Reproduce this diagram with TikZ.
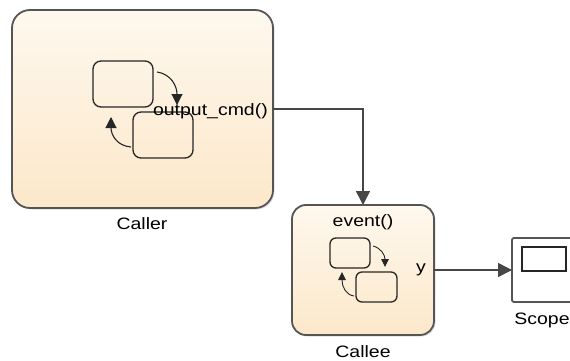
\documentclass[tikz,border=0pt]{standalone}
\usepackage{fontspec}
\setmainfont{Liberation Sans}
\newfontfamily\lblfont[FakeStretch=1.18]{Liberation Sans}
\usetikzlibrary{arrows.meta,shadows}
\definecolor{chtop}{RGB}{254,248,238}
\definecolor{chbot}{RGB}{252,232,202}
\definecolor{bordergray}{RGB}{85,85,85}
\definecolor{linegray}{RGB}{70,70,70}
\tikzset{
  chartblock/.style={draw=bordergray, line width=1.8pt, top color=chtop, bottom color=chbot,
    inner sep=0pt, outer sep=0pt,
    drop shadow={shadow xshift=1.5pt, shadow yshift=-1.5pt, opacity=0.25}},
  statebox/.style={draw=black!85, line width=1.3pt, inner sep=0pt, outer sep=0pt},
  trans/.style={draw=black!85, line width=1.1pt, -{Triangle[length=11pt,width=11pt]}},
  smalltrans/.style={draw=black!85, line width=0.9pt, -{Triangle[length=8pt,width=7.5pt]}},
  signal/.style={draw=linegray, line width=1.6pt, -{Triangle[length=14pt,width=14pt]}},
  lbl/.style={font=\lblfont\fontsize{16.5}{18}\selectfont, inner sep=0pt},
}
\begin{document}
\begin{tikzpicture}[x=1pt,y=-1pt]
\useasboundingbox (0,0) rectangle (570,361);
\clip (0,0) rectangle (570,361);
\fill[white] (0,0) rectangle (570,361);
% Caller chart
\node[chartblock, rounded corners=18pt, minimum width=261pt, minimum height=198pt] (caller) at (142.5,109) {};
\node[statebox, rounded corners=8pt, minimum width=60pt, minimum height=46pt] (c1) at (123,84) {};
\node[statebox, rounded corners=8pt, minimum width=60pt, minimum height=46pt] (c2) at (163,135) {};
\coordinate (c1out) at (157,72);
\coordinate (c1in) at (177,105);
\coordinate (c2out) at (131,147);
\coordinate (c2in) at (111,117);
\draw[trans] (c1out) .. controls (171,74) and (177,86) .. (c1in);
\draw[trans] (c2out) .. controls (117,146) and (111,135) .. (c2in);
\node[lbl, anchor=base east] (outlbl) at (268,115) {output\_cmd()};
\node[lbl] (callerlbl) at (142,224) {Caller};
% Callee chart
\node[chartblock, rounded corners=14pt, minimum width=142pt, minimum height=130pt] (callee) at (363,270) {};
\node[statebox, rounded corners=6pt, minimum width=40pt, minimum height=30pt] (e1) at (350,253) {};
\node[statebox, rounded corners=6pt, minimum width=41pt, minimum height=30pt] (e2) at (376.5,287) {};
\coordinate (e1out) at (373,246);
\coordinate (e1in) at (385,267);
\coordinate (e2out) at (354,296);
\coordinate (e2in) at (342,272);
\draw[smalltrans] (e1out) .. controls (381,248) and (385,255) .. (e1in);
\draw[smalltrans] (e2out) .. controls (346,295) and (342,287) .. (e2in);
\node[lbl] (eventlbl) at (363,222) {event()};
\node[lbl] (ylbl) at (421,270) {y};
\node[lbl] (calleelbl) at (363,352) {Callee};
% Scope
\node[draw=bordergray, line width=1.8pt, fill=white, rounded corners=2pt, minimum width=88pt, minimum height=64pt, inner sep=0pt, outer sep=0pt,
  drop shadow={shadow xshift=1pt, shadow yshift=-1pt, opacity=0.2}] (scope) at (556,270) {};
\node[draw=black!85, line width=1.3pt, minimum width=44pt, minimum height=24pt, inner sep=0pt] (screen) at (544,259) {};
\node[lbl] (scopelbl) at (542,320) {Scope};
% signals
\draw[signal] (caller.east) -| (callee.north);
\draw[signal] (callee.east) -- (scope.west);
\end{tikzpicture}
\end{document}
